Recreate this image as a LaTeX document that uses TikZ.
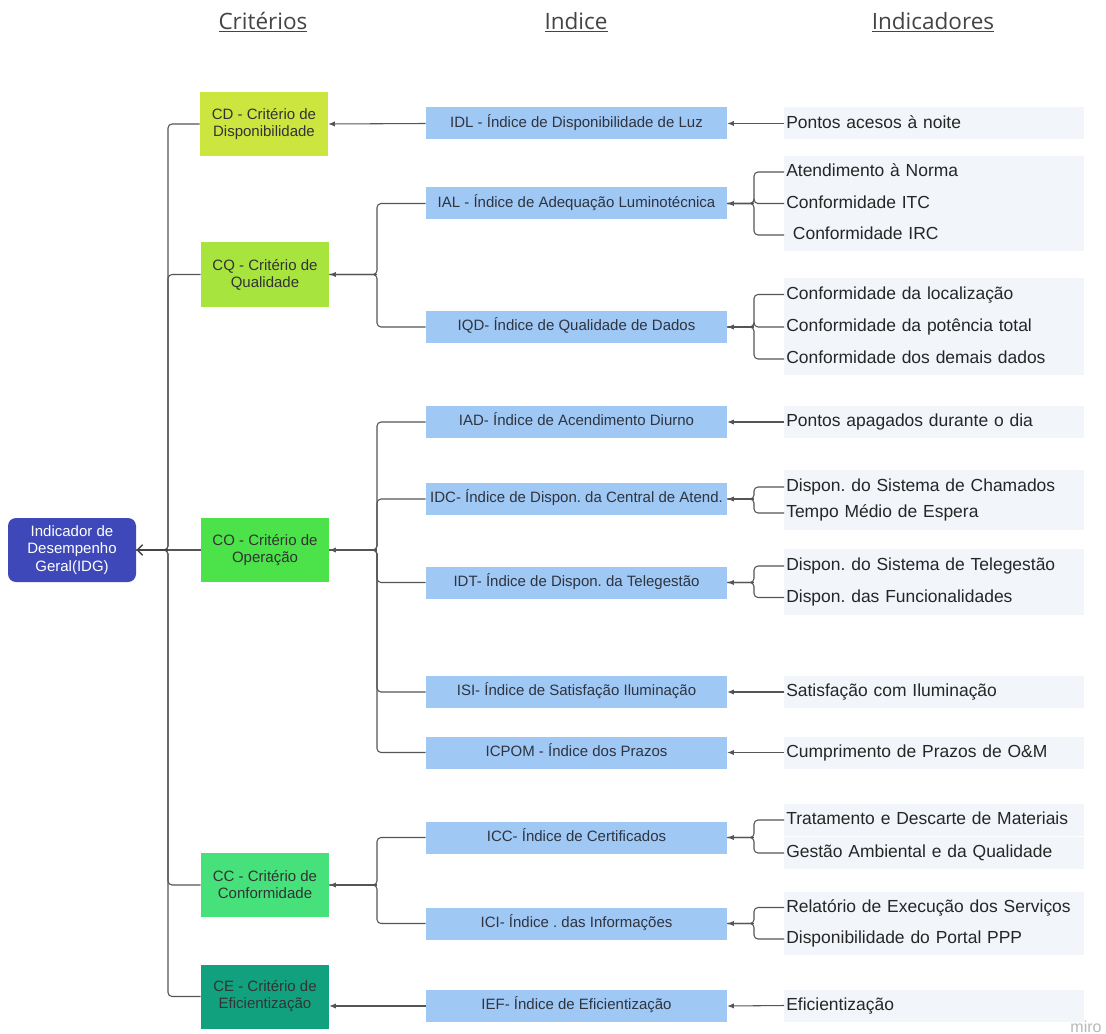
\documentclass[tikz,border=0pt]{standalone}
\usepackage{fontspec}
\setmainfont{Liberation Sans}
\newfontfamily\hdrfont{Open Sans}
\usetikzlibrary{arrows.meta,calc}
\frenchspacing
\definecolor{cdc}{HTML}{CDE63F}
\definecolor{cqc}{HTML}{A8E43E}
\definecolor{coc}{HTML}{4CE24A}
\definecolor{ccc}{HTML}{46E17B}
\definecolor{cec}{HTML}{12A17F}
\definecolor{idgc}{HTML}{3E48B8}
\definecolor{idxc}{HTML}{A0C8F4}
\definecolor{indbg}{HTML}{F2F6FB}
\definecolor{linec}{HTML}{555555}
\definecolor{txtc}{HTML}{333333}
\definecolor{idxtxt}{HTML}{2E3440}
\definecolor{indtxt}{HTML}{262626}
\definecolor{hdrc}{HTML}{444444}
\tikzset{
  crit/.style={minimum width=96pt, minimum height=48pt, inner sep=0pt, align=center,
    text=txtc, font=\fontsize{11.25pt}{12.75pt}\selectfont},
  idxbox/.style={fill=idxc, minimum width=225.75pt, minimum height=24pt, inner sep=0pt,
    text=idxtxt, font=\fontsize{11.25pt}{12.75pt}\selectfont, text height=8.2pt, text depth=2.3pt},
  indbox/.style={fill=indbg, anchor=west, text width=222pt, minimum height=24pt, inner xsep=1.5pt, inner ysep=0pt,
    align=left, text=indtxt, font=\fontsize{13.1pt}{15pt}\selectfont, text height=9.5pt, text depth=2.7pt},
  conn/.style={draw=linec, line width=0.8pt, rounded corners=3pt},
  arr/.style={conn, -{Latex[length=5pt,width=4pt]}},
  openarr/.style={draw=linec!80!black, line width=1.1pt, -{Straight Barb[length=4pt,width=8pt]}},
  hdr/.style={text=hdrc, font=\hdrfont\fontsize{16.9pt}{20pt}\selectfont, inner sep=0pt}
}
\begin{document}
\begin{tikzpicture}[x=0.75pt,y=-0.75pt]
\useasboundingbox[fill=white] (0,0) rectangle (1106,1034);

% headers
\node[hdr] (h1) at (263,22) {\underline{Critérios}};
\node[hdr] (h2) at (576,22) {\underline{Indice}};
\node[hdr] (h3) at (933,22) {\underline{Indicadores}};

% root
\node[fill=idgc, rounded corners=6pt, minimum width=96pt, minimum height=48pt, inner sep=0pt,
  align=center, text=white, font=\fontsize{11.25pt}{13.1pt}\selectfont] (idg) at (72,550)
  {Indicador de\\Desempenho\\Geral(IDG)};

% criteria
\node[crit, fill=cdc] (cd) at (264,124) {CD - Critério de\\Disponibilidade};
\node[crit, fill=cqc] (cq) at (265,274.5) {CQ - Critério de\\Qualidade};
\node[crit, fill=coc] (co) at (265,550) {CO - Critério de\\Operação};
\node[crit, fill=ccc] (cc) at (265,885) {CC - Critério de\\Conformidade};
\node[crit, fill=cec] (ce) at (265,996.5) {CE - Critério de\\Eficientização};

% indices
\node[idxbox] (idl) at (576.5,123.5) {IDL - Índice de Disponibilidade de Luz};
\node[idxbox] (ial) at (576.5,203.5) {IAL - Índice de Adequação Luminotécnica};
\node[idxbox] (iqd) at (576.5,327) {IQD- Índice de Qualidade de Dados};
\node[idxbox] (iad) at (576.5,422) {IAD- Índice de Acendimento Diurno};
\node[idxbox] (idc) at (576.5,499) {IDC- Índice de Dispon. da Central de Atend.};
\node[idxbox] (idt) at (576.5,582.5) {IDT- Índice de Dispon. da Telegestão};
\node[idxbox] (isi) at (576.5,692) {ISI- Índice de Satisfação Iluminação};
\node[idxbox] (icpom) at (576.5,752.5) {ICPOM - Índice dos Prazos};
\node[idxbox] (icc) at (576.5,837.5) {ICC- Índice de Certificados};
\node[idxbox] (ici) at (576.5,923.5) {ICI- Índice . das Informações};
\node[idxbox] (ief) at (576.5,1006) {IEF- Índice de Eficientização};

% indicators
\node[indbox] (n1) at (784,123.5) {Pontos acesos à noite};
\node[indbox] (n2) at (784,172) {Atendimento à Norma};
\node[indbox] (n3) at (784,203.5) {Conformidade ITC};
\node[indbox] (n4) at (784,235) {\hspace*{5pt}Conformidade IRC};
\node[indbox] (n5) at (784,294.5) {Conformidade da localização};
\node[indbox] (n6) at (784,327) {Conformidade da potência total};
\node[indbox] (n7) at (784,359) {Conformidade dos demais dados};
\node[indbox] (n8) at (784,422) {Pontos apagados durante o dia};
\node[indbox, minimum height=26pt] (n9) at (784,487) {Dispon. do Sistema de Chamados};
\node[indbox, minimum height=26pt] (n10) at (784,513) {Tempo Médio de Espera};
\node[indbox, minimum height=26pt] (n11) at (784,566) {Dispon. do Sistema de Telegestão};
\node[indbox, minimum height=26pt] (n12) at (784,597.5) {Dispon. das Funcionalidades};
\node[indbox] (n13) at (784,692) {Satisfação com Iluminação};
\node[indbox] (n14) at (784,752.5) {Cumprimento de Prazos de O\&M};
\node[indbox] (n15) at (784,820) {Tratamento e Descarte de Materiais};
\node[indbox] (n16) at (784,853) {Gestão Ambiental e da Qualidade};
\node[indbox] (n17) at (784,907.5) {Relatório de Execução dos Serviços};
\node[indbox] (n18) at (784,939) {Disponibilidade do Portal PPP};
\node[indbox] (n19) at (784,1005.5) {Eficientização};

\node[text=black!28, font=\fontsize{12pt}{12pt}\selectfont, inner sep=0pt, anchor=south] (miro) at (1086,1032.5) {miro};

% branch coordinates
\coordinate (trunk) at (168,550);
\coordinate (bCQ) at (377,274.5);
\coordinate (bCO) at (377,550);
\coordinate (bCC) at (377,885);
\coordinate (bIAL) at (754,203.5);
\coordinate (bIQD) at (754,327);
\coordinate (bIDC) at (754,499);
\coordinate (bIDT) at (754,582.5);
\coordinate (bICC) at (754,837.5);
\coordinate (bICI) at (754,923.5);

% criteria -> IDG
\foreach \c in {cd,cq,cc,ce}{\draw[conn] (\c.west) -| (trunk) -- (idg.east);}
\draw[conn] (co.west) -- (trunk);
\draw[openarr] (trunk) -- (idg.east);

% indices -> criteria
\draw[arr] (idl.west) -- (cd.east);
\foreach \i in {ial,iqd}{\draw[conn] (\i.west) -| (bCQ) -- (cq.east);}
\draw[arr] (bCQ) -- (cq.east);
\foreach \i in {iad,idc,idt,isi,icpom}{\draw[conn] (\i.west) -| (bCO) -- (co.east);}
\draw[arr] (bCO) -- (co.east);
\foreach \i in {icc,ici}{\draw[conn] (\i.west) -| (bCC) -- (cc.east);}
\draw[arr] (bCC) -- (cc.east);
\draw[arr] (ief.west) -- (ief.west -| ce.east);

% indicators -> indices
\draw[arr] (n1.west) -- (idl.east);
\foreach \n in {n2,n3,n4}{\draw[conn] (\n.west) -| (bIAL) -- (ial.east);}
\draw[arr] (bIAL) -- (ial.east);
\foreach \n in {n5,n6,n7}{\draw[conn] (\n.west) -| (bIQD) -- (iqd.east);}
\draw[arr] (bIQD) -- (iqd.east);
\draw[arr] (n8.west) -- (iad.east);
\foreach \n in {n9,n10}{\draw[conn] (\n.west) -| (bIDC) -- (idc.east);}
\draw[arr] (bIDC) -- (idc.east);
\foreach \n in {n11,n12}{\draw[conn] (\n.west) -| (bIDT) -- (idt.east);}
\draw[arr] (bIDT) -- (idt.east);
\draw[arr] (n13.west) -- (isi.east);
\draw[arr] (n14.west) -- (icpom.east);
\foreach \n in {n15,n16}{\draw[conn] (\n.west) -| (bICC) -- (icc.east);}
\draw[arr] (bICC) -- (icc.east);
\foreach \n in {n17,n18}{\draw[conn] (\n.west) -| (bICI) -- (ici.east);}
\draw[arr] (bICI) -- (ici.east);
\draw[arr] (n19.west) -- (ief.east);
\end{tikzpicture}
\end{document}
